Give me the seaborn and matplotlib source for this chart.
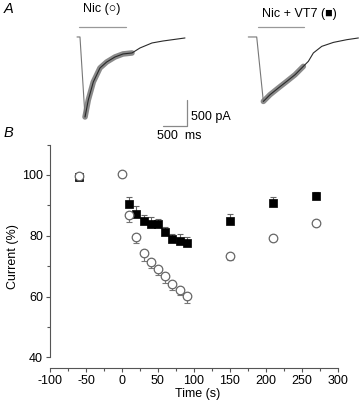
import numpy as np
import pandas as pd
import seaborn as sns
import matplotlib.pyplot as plt
from matplotlib.ticker import MultipleLocator

# ---- panel B data: current (% of control) vs time (s)
time_nic = [-60, 0, 10, 20, 30, 40, 50, 60, 70, 80, 90, 150, 210, 270]
cur_nic = [99.7, 100.2, 86.7, 79.7, 74.2, 71.4, 69.2, 66.9, 64.2, 62.3, 60.1, 73.3, 79.4, 84.2]
err_nic = [0.3, 0.5, 2.2, 2.2, 2.4, 2.1, 2.1, 2.5, 2.0, 1.8, 2.3, 1.3, 1.1, 0.8]

time_vt7 = [-60, 10, 20, 30, 40, 50, 60, 70, 80, 90, 150, 210, 270]
cur_vt7 = [99.2, 90.6, 87.3, 84.9, 83.9, 83.9, 81.1, 78.8, 78.2, 77.7, 84.9, 90.7, 93.0]
err_vt7 = [0.3, 2.1, 2.5, 2.1, 2.4, 1.7, 1.7, 1.8, 2.3, 2.0, 2.3, 2.0, 1.5]

# ---- panel A traces (ms, pA)
t_nic = [0, 62, 167, 235, 339, 478, 618, 790, 957, 1144, 1310, 1560, 1789, 2246]
i_nic = [0, 0, -1536, -1210, -864, -595, -480, -384, -326, -307, -211, -115, -77, -19]
t_vt7 = [0, 175, 313, 451, 624, 799, 972, 1145, 1249, 1353, 1528, 1770, 2048, 2290]
i_vt7 = [0, 0, -1237, -1109, -980, -853, -725, -564, -468, -307, -180, -104, -52, -19]
fit_nic = (2, 9)   # index range of the fitted decay
fit_vt7 = (2, 7)
bar_nic = [40, 1020]
bar_vt7 = [200, 1160]
bar_level = 190
scale_t = [1789, 2288]
scale_i = [-1210, -1709]

sns.set_style("ticks")
plt.rcParams['font.family'] = ['Liberation Sans', 'DejaVu Sans']
plt.rcParams['axes.unicode_minus'] = False
plt.rcParams['text.color'] = 'black'
plt.rcParams['axes.labelcolor'] = 'black'
plt.rcParams['xtick.labelcolor'] = 'black'
plt.rcParams['ytick.labelcolor'] = 'black'

W, H = 360, 404
MS_PX = 20.8      # ms per pixel in panel A
fig = plt.figure(figsize=(W / 100, H / 100), dpi=100)


def px_axes(x0, y0, x1, y1):
    return fig.add_axes([x0 / W, 1 - y1 / H, (x1 - x0) / W, (y1 - y0) / H])


def ftext(x, y, s, **kw):
    fig.text(x / W, 1 - y / H, s, **kw)


# ---- panel A
ylim_a = (-2074, 710)
panels = [((60, 200), t_nic, i_nic, fit_nic, bar_nic, 77),
          ((230, 360), t_vt7, i_vt7, fit_vt7, bar_vt7, 248.3)]
axes_a = []
for (xa, xb), t, i, fit, bar, x0 in panels:
    ax = px_axes(xa, 0, xb, 145)
    a, b = fit
    sns.lineplot(x=t[a:b + 1], y=i[a:b + 1], ax=ax, color='#8a8a8a', lw=4.0,
                 sort=False, estimator=None, solid_capstyle='round')
    sns.lineplot(x=t[:a + 1], y=i[:a + 1], ax=ax, color='#777777', lw=0.8,
                 sort=False, estimator=None)
    sns.lineplot(x=t[a:], y=i[a:], ax=ax, color='#2a2a2a', lw=0.8, sort=False, estimator=None)
    ax.plot(bar, [bar_level, bar_level], color='#999999', lw=0.9)
    ax.set_xlim((xa - x0) * MS_PX, (xb - x0) * MS_PX)
    ax.set_ylim(*ylim_a)
    ax.axis('off')
    axes_a.append(ax)

axes_a[0].plot([scale_t[1], scale_t[1], scale_t[0]], [scale_i[0], scale_i[1], scale_i[1]],
               color='#888888', lw=0.9, clip_on=False)

ftext(4, 9, 'A', fontsize=10.5, style='italic', va='center')
ftext(4, 133, 'B', fontsize=10.5, style='italic', va='center')
ftext(83, 9, 'Nic (\u25cb)', fontsize=9, va='center')
ftext(262, 14, 'Nic + VT7 (\u25a0)', fontsize=9, va='center')
ftext(191, 117, '500 pA', fontsize=9, va='center')
ftext(157, 136, '500  ms', fontsize=9, va='center')

# ---- panel B
axb = px_axes(50, 144.6, 345, 368)
axb.errorbar(time_vt7, cur_vt7, yerr=[np.zeros(len(err_vt7)), err_vt7], fmt='none',
             ecolor='#666666', elinewidth=0.8, capsize=2, capthick=0.8, zorder=1)
axb.errorbar(time_nic, cur_nic, yerr=[err_nic, np.zeros(len(err_nic))], fmt='none',
             ecolor='#777777', elinewidth=0.8, capsize=2, capthick=0.8, zorder=3)
sns.scatterplot(x=time_vt7, y=cur_vt7, ax=axb, marker='s', s=32, color='black',
                edgecolor='black', linewidth=0.5, zorder=2)
sns.scatterplot(x=time_nic, y=cur_nic, ax=axb, marker='o', s=38, facecolor='white',
                edgecolor='#666666', linewidth=0.9, zorder=4)

axb.set_xlim(-100, 310)
axb.set_ylim(36.5, 110)
axb.xaxis.set_major_locator(MultipleLocator(50))
axb.xaxis.set_minor_locator(MultipleLocator(25))
axb.yaxis.set_major_locator(MultipleLocator(20))
axb.yaxis.set_minor_locator(MultipleLocator(10))
axb.spines['top'].set_visible(False)
axb.spines['right'].set_visible(False)
axb.spines['left'].set_bounds(40, 110)
axb.spines['bottom'].set_bounds(-100, 300)
for s in ['left', 'bottom']:
    axb.spines[s].set_color('#555555')
    axb.spines[s].set_linewidth(0.8)
axb.tick_params(which='major', length=3, width=0.8, color='#555555', labelsize=9, pad=2)
axb.tick_params(which='minor', length=2, width=0.8, color='#555555')
axb.set_xticks(range(-100, 301, 50))
axb.set_xlabel('Time (s)', fontsize=9, labelpad=1)
axb.set_ylabel('Current (%)', fontsize=9, labelpad=2)

fig.savefig('out.png', dpi=100)
